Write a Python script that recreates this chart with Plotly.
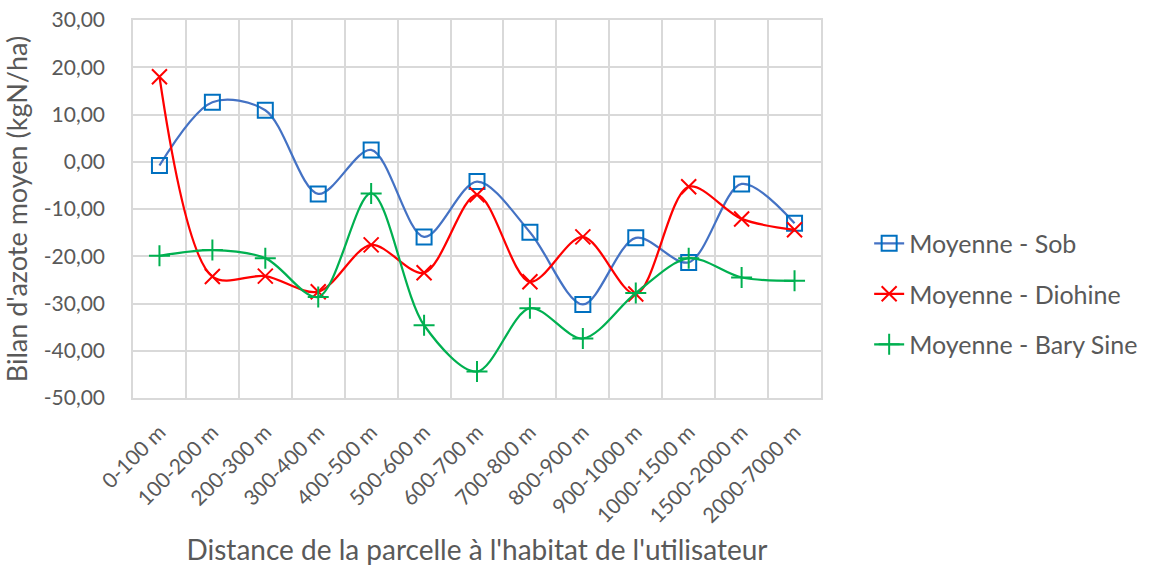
import plotly.graph_objects as go

categories = ["0-100 m", "100-200 m", "200-300 m", "300-400 m", "400-500 m",
              "500-600 m", "600-700 m", "700-800 m", "800-900 m", "900-1000 m",
              "1000-1500 m", "1500-2000 m", "2000-7000 m"]

sob = [-0.8, 12.6, 10.9, -6.8, 2.5, -15.9, -4.2, -14.9, -30.2, -16.1, -21.3, -4.7, -13.0]
diohine = [18.0, -24.3, -24.2, -27.5, -17.6, -23.5, -7.0, -25.4, -15.9, -28.0, -5.3, -12.1, -14.4]
bary_sine = [-19.9, -18.7, -20.4, -28.6, -6.7, -34.6, -44.4, -31.0, -37.4, -27.8, -20.4, -24.5, -25.2]

y_ticks = [-50, -40, -30, -20, -10, 0, 10, 20, 30]
# Excel-style labels: comma decimal, plain hyphen for minus
y_ticktext = [f"{v:.2f}".replace(".", ",") for v in y_ticks]

FONT = "Lato"
GREY = "#595959"
GRID = "#D9D9D9"

fig = go.Figure()

series = [
    ("Moyenne - Sob", sob, "#4472C4", "#0070C0", "square-open", 15),
    ("Moyenne - Diohine", diohine, "#FF0000", "#FF0000", "x-thin-open", 15),
    ("Moyenne - Bary Sine", bary_sine, "#00B050", "#00B050", "cross-thin-open", 15),
]
for name, vals, lcol, mcol, sym, size in series:
    fig.add_trace(go.Scatter(
        x=categories, y=vals, name=name, legendgroup=name, mode="lines+markers",
        line=dict(color=lcol, width=2.25, shape="spline", smoothing=0.9),
        marker=dict(symbol=sym, size=size, color=mcol, line=dict(color=mcol, width=2)),
    ))

fig.update_layout(
    width=1162, height=566,
    margin=dict(l=133, r=341, t=20, b=168),
    paper_bgcolor="white", plot_bgcolor="white",
    font=dict(family=FONT, color=GREY),
    legend=dict(x=1.07, xanchor="left", y=0.275, yanchor="middle",
                font=dict(size=25, color=GREY), tracegroupgap=15),
)
fig.update_xaxes(
    type="category", range=[-0.5, len(categories) - 0.5], automargin=False,
    tickangle=-45, tickfont=dict(size=21, color=GREY), ticklabelstandoff=12,
    showgrid=True, gridcolor=GRID, gridwidth=1.5, tickson="boundaries",
    showline=True, linecolor=GRID, linewidth=1.5, mirror=True, ticks="",
    title=dict(text="Distance de la parcelle à l'habitat de l'utilisateur",
               font=dict(size=28, color=GREY), standoff=25),
)
fig.update_yaxes(
    range=[-50, 30], tickvals=y_ticks, ticktext=y_ticktext, automargin=False,
    tickfont=dict(size=21, color=GREY), ticklabelstandoff=22, ticklabeloverflow="allow",
    showgrid=True, gridcolor=GRID, gridwidth=1.5, zeroline=False,
    showline=True, linecolor=GRID, linewidth=1.5, mirror=True, ticks="",
    title=dict(text="Bilan d'azote moyen (kgN/ha)", font=dict(size=27, color=GREY), standoff=10),
)

# drop the default 8px body margin so the figure fills the window exactly
fig.write_html("out.html", config={"displayModeBar": False},
               post_script="document.body.style.margin = '0';")
